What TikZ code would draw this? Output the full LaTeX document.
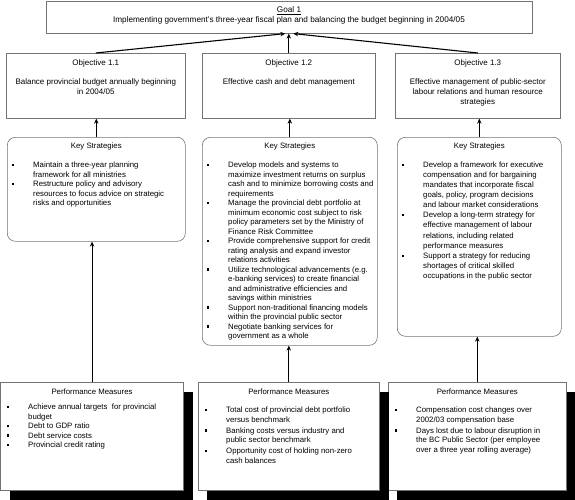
\documentclass[tikz,border=0pt]{standalone}
\usepackage{fontspec}
\setmainfont{Liberation Sans}
\usetikzlibrary{arrows.meta,calc}
\newcommand\bl{\makebox[21pt][l]{\rule[1.5pt]{2.2pt}{2.2pt}}}
\newcommand\ind{\hspace*{21pt}}
\begin{document}
\begin{tikzpicture}[x=1pt,y=-1pt,
  box/.style={draw=black!55, line width=0.6pt, fill=white, rectangle, inner sep=0pt, anchor=north west},
  ksbox/.style={box, rounded corners=8pt},
  pmbox/.style={box, minimum height=108pt},
  txt/.style={font=\fontsize{7.8}{9.5}\selectfont, inner sep=0pt, align=left},
  ctxt/.style={font=\fontsize{8}{10}\selectfont, inner sep=0pt, align=center},
  arr/.style={line width=1.1pt, -{Stealth[length=5pt, width=4.4pt]}}]
\useasboundingbox (0,0) rectangle (575,500);

% goal
\node[box, minimum width=486pt, minimum height=32pt] (goal) at (46,1) {};
\node[font=\fontsize{8.2}{9.5}\selectfont, inner sep=0pt, align=center, anchor=north] (goalt) at (289,5.75)
  {\strut\underline{Goal 1}\\Implementing government's three-year fiscal plan and balancing the budget beginning in 2004/05};

% objectives
\node[box, minimum width=179pt, minimum height=65pt] (obj1) at (6,53) {};
\node[box, minimum width=173pt, minimum height=65pt] (obj2) at (202,53) {};
\node[box, minimum width=165pt, minimum height=65pt] (obj3) at (395,53) {};
\node[ctxt, anchor=north] (obj1t) at (obj1.north |- 0,58.4)
  {\strut Objective 1.1\\[9pt]Balance provincial budget annually beginning\\in 2004/05};
\node[ctxt, anchor=north] (obj2t) at (obj2.north |- 0,58.4)
  {\strut Objective 1.2\\[9pt]Effective cash and debt management};
\node[ctxt, anchor=north] (obj3t) at (obj3.north |- 0,58.4)
  {\strut Objective 1.3\\[9pt]Effective management of public-sector\\labour relations and human resource\\strategies};

% key strategies
\node[ksbox, minimum width=178pt, minimum height=104pt] (ks1) at (7,137) {};
\node[ksbox, minimum width=175pt, minimum height=208pt] (ks2) at (202,137) {};
\node[ksbox, minimum width=164pt, minimum height=199pt] (ks3) at (397,137) {};
\node[txt, anchor=base] (ks1h) at (ks1.north |- 0,148.4) {Key Strategies};
\node[txt, anchor=base] (ks2h) at (ks2.north |- 0,148.4) {Key Strategies};
\node[txt, anchor=base] (ks3h) at (ks3.north |- 0,148.4) {Key Strategies};
\node[txt, anchor=north west] (ks1t) at (12,160.75)
  {\strut\bl Maintain a three-year planning\\
   \ind framework for all ministries\\
   \bl Restructure policy and advisory\\
   \ind resources to focus advice on strategic\\
   \ind risks and opportunities};
\node[txt, anchor=north west] (ks2t) at (207,160.75)
  {\strut\bl Develop models and systems to\\
   \ind maximize investment returns on surplus\\
   \ind cash and to minimize borrowing costs and\\
   \ind requirements\\
   \bl Manage the provincial debt portfolio at\\
   \ind minimum economic cost subject to risk\\
   \ind policy parameters set by the Ministry of\\
   \ind Finance Risk Committee\\
   \bl Provide comprehensive support for credit\\
   \ind rating analysis and expand investor\\
   \ind relations activities\\
   \bl Utilize technological advancements (e.g.\\
   \ind e-banking services) to create financial\\
   \ind and administrative efficiencies and\\
   \ind savings within ministries\\
   \bl Support non-traditional financing models\\
   \ind within the provincial public sector\\
   \bl Negotiate banking services for\\
   \ind government as a whole};
\node[txt, font=\fontsize{7.8}{10.1}\selectfont, anchor=north west] (ks3t) at (402,160.1)
  {\strut\bl Develop a framework for executive\\
   \ind compensation and for bargaining\\
   \ind mandates that incorporate fiscal\\
   \ind goals, policy, program decisions\\
   \ind and labour market considerations\\
   \bl Develop a long-term strategy for\\
   \ind effective management of labour\\
   \ind relations, including related\\
   \ind performance measures\\
   \bl Support a strategy for reducing\\
   \ind shortages of critical skilled\\
   \ind occupations in the public sector};

% performance measures
\node[pmbox, minimum width=182.5pt] (pm1) at (0.5,382) {};
\node[pmbox, minimum width=181pt] (pm2) at (198,382) {};
\node[pmbox, minimum width=178pt] (pm3) at (388,382) {};
\node[txt, anchor=base] (pm1h) at (pm1.north |- 0,394.4) {Performance Measures};
\node[txt, anchor=base] (pm2h) at (pm2.north |- 0,394.4) {Performance Measures};
\node[txt, anchor=base] (pm3h) at (pm3.north |- 0,394.4) {Performance Measures};
\node[txt, anchor=north west] (pm1t) at (7,402.75)
  {\strut\bl Achieve annual targets \ for provincial\\
   \ind budget\\
   \bl Debt to GDP ratio\\
   \bl Debt service costs\\
   \bl Provincial credit rating};
\node[txt, anchor=north west] (pm2t) at (205,405.75)
  {\strut\bl Total cost of provincial debt portfolio\\
   \ind versus benchmark\\[1.5pt]
   \bl Banking costs versus industry and\\
   \ind public sector benchmark\\[1.5pt]
   \bl Opportunity cost of holding non-zero\\
   \ind cash balances};
\node[txt, anchor=north west] (pm3t) at (395,405.75)
  {\strut\bl Compensation cost changes over\\
   \ind 2002/03 compensation base\\[1.5pt]
   \bl Days lost due to labour disruption in\\
   \ind the BC Public Sector (per employee\\
   \ind over a three year rolling average)};

% connectors
\draw[arr] (obj1.north) -- ($(goal.south)+(-4,0)$);
\draw[arr] (obj2.north) -- (obj2.north |- goal.south);
\draw[arr] (obj3.north) -- ($(goal.south)+(4,0)$);
\draw[arr] (ks1.north) -- (ks1.north |- obj1.south);
\draw[arr] (ks2.north) -- (ks2.north |- obj2.south);
\draw[arr] (ks3.north) -- (ks3.north |- obj3.south);
\draw[arr] (pm1.north) -- (pm1.north |- ks1.south);
\draw[arr] (pm2.north) -- (pm2.north |- ks2.south);
\draw[arr] (pm3.north) -- (pm3.north |- ks3.south);

% drop shadows of the performance boxes (right strip and bottom strip)
\fill[black] ($(pm1.north east)+(0.3,10)$) rectangle ($(pm1.south east)+(9,10)$);
\fill[black] ($(pm1.south west)+(9,0.3)$) rectangle ($(pm1.south east)+(9,10)$);
\fill[black] ($(pm2.north east)+(0.3,10)$) rectangle ($(pm2.south east)+(9,10)$);
\fill[black] ($(pm2.south west)+(9,0.3)$) rectangle ($(pm2.south east)+(9,10)$);
\fill[black] ($(pm3.north east)+(0.3,10)$) rectangle ($(pm3.south east)+(9,10)$);
\fill[black] ($(pm3.south west)+(9,0.3)$) rectangle ($(pm3.south east)+(9,10)$);
\end{tikzpicture}
\end{document}
